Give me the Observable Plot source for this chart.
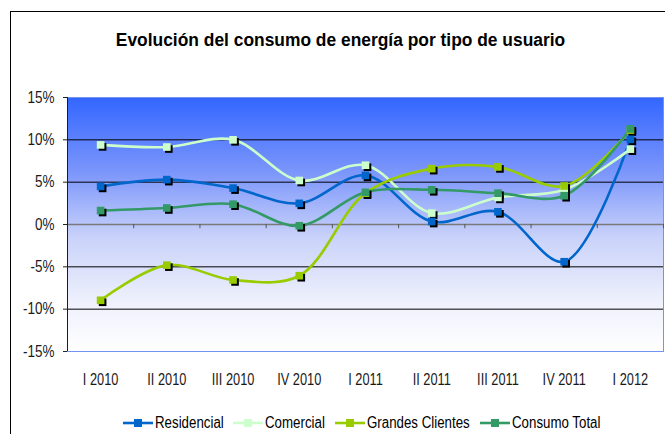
<!DOCTYPE html>
<html>
<head>
<meta charset="utf-8">
<script src="https://cdn.jsdelivr.net/npm/d3@7"></script>
<script src="https://cdn.jsdelivr.net/npm/@observablehq/plot@0.6"></script>
<style>
  html, body { margin: 0; padding: 0; background: #fff; overflow: hidden; }
  #wrap { position: relative; width: 665px; height: 434px; overflow: hidden; font-family: "Liberation Sans", Arial, sans-serif; }
  #border { position: absolute; left: 10px; top: 11px; width: 800px; height: 600px; border: 1px solid #000; box-sizing: border-box; }
  #title { position: absolute; left: 8px; top: 0; width: 665px; height: 80px; text-align: center; font-weight: bold; font-size: 17.4px; line-height: 80px; color: #000; }
  #title span { display: inline-block; transform: scaleY(1.08); }
  #chart { position: absolute; left: 0; top: 80px; }
  #legend { position: absolute; left: 0; top: 412px; width: 665px; height: 22px; font-size: 13.3px; color: #000; }
  .item { position: absolute; top: 3px; white-space: nowrap; display: flex; align-items: center; }
  .item svg { margin-right: 2px; }
  .item span { display: inline-block; transform: scaleY(1.28); }
</style>
</head>
<body>
<div id="wrap">
  <div id="border"></div>
  <div id="title"><span>Evolución del consumo de energía por tipo de usuario</span></div>
  <div id="chart"></div>
  <div id="legend"></div>
</div>
<script>
const categories = ["I 2010","II 2010","III 2010","IV 2010","I 2011","II 2011","III 2011","IV 2011","I 2012"];
const seriesNames = ["Residencial","Comercial","Grandes Clientes","Consumo Total"];
const seriesColors = ["#0066CC","#CCFFCC","#99CC00","#339966"];
const residencial = [4.5, 5.3, 4.3, 2.5, 5.8, 0.35, 1.5, -4.4, 10.05];
const comercial = [9.4, 9.15, 10.0, 5.2, 7.0, 1.35, 3.2, 4.1, 8.9];
const grandes = [-8.95, -4.8, -6.55, -6.05, 3.7, 6.6, 6.8, 4.55, 11.15];
const total = [1.65, 1.95, 2.4, -0.15, 3.8, 4.1, 3.7, 3.4, 11.3];
const yTicks = [-15, -10, -5, 0, 5, 10, 15];
const gridValues = [-10, -5, 5, 10];

const seriesValues = [residencial, comercial, grandes, total];
const data = [];
seriesNames.forEach((s, si) => {
  seriesValues[si].forEach((v, i) => data.push({series: s, i: i + 0.5, cat: categories[i], value: v}));
});
const boundaries = categories.map((c, i) => i + 1);
const tickPos = categories.map((c, i) => i + 0.5);

const plot = Plot.plot({
  width: 665,
  height: 330,
  marginTop: 17,
  marginBottom: 59,
  marginLeft: 67,
  marginRight: 2,
  style: {fontFamily: "'Liberation Sans', Arial, sans-serif", fontSize: "13px", color: "#1a1a1a", background: "transparent"},
  x: {domain: [0, categories.length]},
  y: {domain: [-15, 15]},
  color: {domain: seriesNames, range: seriesColors},
  marks: [
    Plot.frame({fill: "url(#bgGrad)", stroke: "#7393f0", strokeWidth: 1}),
    Plot.ruleY(gridValues, {stroke: "#000", strokeWidth: 1}),
    Plot.ruleY([0], {stroke: "#7a7a7a", strokeWidth: 1.5}),
    Plot.ruleX(boundaries, {y1: 0, y2: -0.5, stroke: "#555", strokeWidth: 1}),
    Plot.ruleX([0], {stroke: "#1a1a2a", strokeWidth: 1}),
    Plot.axisY({ticks: yTicks, tickSize: 4, tickPadding: 9, fontSize: 13.5, tickFormat: d => d + "%", label: null, stroke: "#222"}),
    Plot.axisX({ticks: tickPos, tickSize: 0, tickPadding: 22, fontSize: 12.8, tickFormat: d => categories[Math.floor(d)], label: null}),
    Plot.line(data, {x: "i", y: "value", z: "series", stroke: "series", strokeWidth: 2.6, curve: "catmull-rom"}),
    Plot.dot(data, {x: "i", y: "value", symbol: "square", r: 4.3, fill: "#000", dx: 2, dy: 2}),
    Plot.dot(data, {x: "i", y: "value", symbol: "square", r: 4.3, fill: "series"})
  ]
});

const svg = d3.select(plot);
const defs = svg.insert("defs", ":first-child");
const grad = defs.append("linearGradient").attr("id", "bgGrad").attr("x1", 0).attr("y1", 0).attr("x2", 0).attr("y2", 1);
grad.append("stop").attr("offset", "0%").attr("stop-color", "#3366ff");
grad.append("stop").attr("offset", "30%").attr("stop-color", "#7d97fb");
grad.append("stop").attr("offset", "55%").attr("stop-color", "#c9d2fa");
grad.append("stop").attr("offset", "80%").attr("stop-color", "#eef0fc");
grad.append("stop").attr("offset", "100%").attr("stop-color", "#ffffff");

// stretch tick label glyphs vertically like the reference rendering
function stretch(selector, s) {
  svg.selectAll(selector).each(function () {
    const t = d3.select(this);
    const tr = t.attr("transform") || "";
    const x = t.attr("x");
    let extra = "";
    if (x != null && !/em$/.test(x)) { extra += ` translate(${+x},0)`; t.attr("x", null); }
    const y = t.attr("y");
    if (y != null && !/em$/.test(y)) { extra += ` translate(0,${+y})`; t.attr("y", null); }
    t.attr("transform", `${tr}${extra} scale(1,${s})`);
  });
}
stretch('g[aria-label="y-axis tick label"] text', 1.16);
stretch('g[aria-label="x-axis tick label"] text', 1.3);

document.getElementById("chart").appendChild(plot);

const legend = document.getElementById("legend");
const lefts = [123, 233, 335, 480];
seriesNames.forEach((s, i) => {
  const d = document.createElement("div");
  d.className = "item";
  d.style.left = lefts[i] + "px";
  d.innerHTML = `<svg width="30" height="10"><line x1="0" y1="5" x2="30" y2="5" stroke="${seriesColors[i]}" stroke-width="2.6"/><rect x="11" y="1" width="8" height="8" fill="${seriesColors[i]}"/></svg><span>${s}</span>`;
  legend.appendChild(d);
});
</script>
</body>
</html>
